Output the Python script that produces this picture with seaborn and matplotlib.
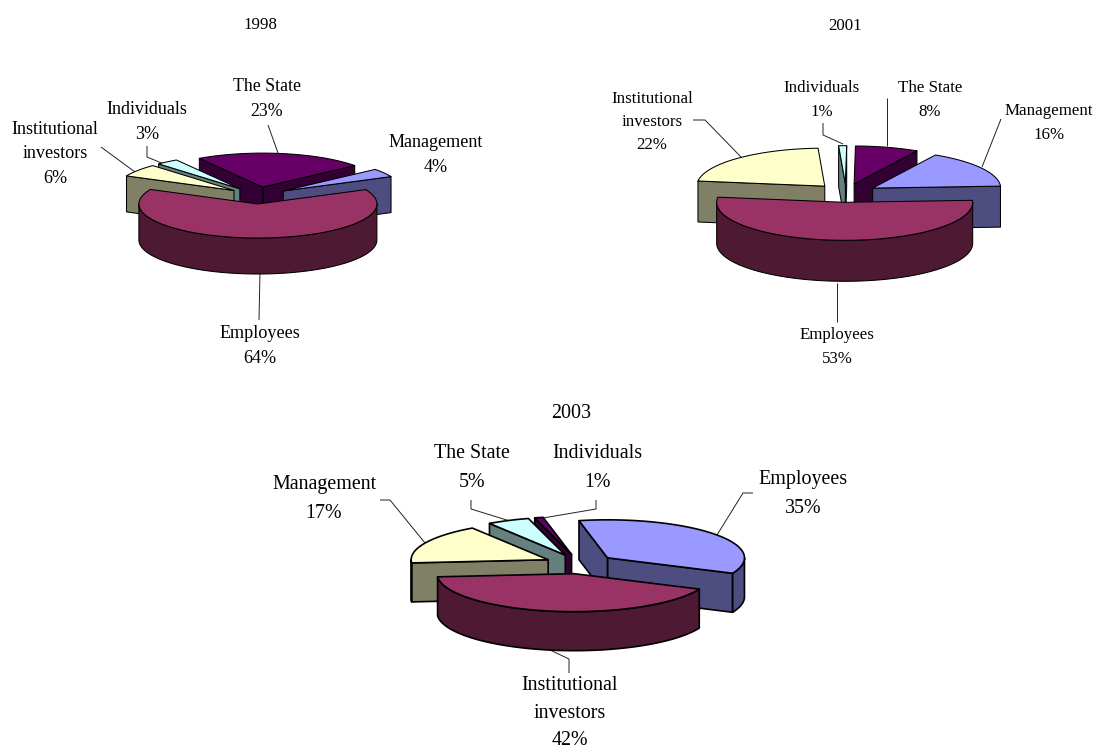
import numpy as np
import matplotlib
matplotlib.use("Agg")
import matplotlib.pyplot as plt
import seaborn as sns

# ---- data (clockwise slice order, as in the source charts) ----
cats_1998 = ["Management", "Employees", "Institutional investors", "Individuals", "The State"]
vals_1998 = [4, 64, 6, 3, 23]
cats_2001 = ["Management", "Employees", "Institutional investors", "Individuals", "The State"]
vals_2001 = [16, 53, 22, 1, 8]
cats_2003 = ["Employees", "Institutional investors", "Management", "The State", "Individuals"]
vals_2003 = [35, 42, 17, 5, 1]

sns.set_theme(style="white")
plt.rcParams["font.family"] = ["Liberation Serif", "DejaVu Serif"]
plt.rcParams["text.color"] = "black"

tops = sns.color_palette(["#9999FF", "#993366", "#FFFFCC", "#CCFFFF", "#660066"])
walls = sns.color_palette(["#4D4D80", "#4D1933", "#808066", "#668080", "#330033"])

fig = plt.figure(figsize=(10.96, 7.51), dpi=100)
ax = fig.add_axes([0, 0, 1, 1])
ax.set_xlim(0, 1096)
ax.set_ylim(751, 0)
ax.axis("off")


def pie3d(values, start, cx, cy, rx, ry, depth, explode, lw):
    fracs = np.asarray(values, float) / np.sum(values) * 360.0
    hi = start - np.concatenate([[0], np.cumsum(fracs)[:-1]])
    lo = hi - fracs
    order = []
    for i in range(len(values)):
        mid = np.radians((hi[i] + lo[i]) / 2)
        ax0 = cx + explode * rx * np.cos(mid)
        ay0 = cy - explode * ry * np.sin(mid)
        order.append((ay0, i, ax0))
    for ay0, i, ax0 in sorted(order):
        t = np.radians(np.linspace(lo[i], hi[i], max(int(fracs[i] * 2), 8)))
        xs = ax0 + rx * np.cos(t)
        ys = ay0 - ry * np.sin(t)
        kw = dict(edgecolor="black", linewidth=lw, joinstyle="round", zorder=2)
        # radial faces turned toward the viewer
        if np.cos(t[0]) > 0:
            ax.fill([ax0, xs[0], xs[0], ax0], [ay0, ys[0], ys[0] + depth, ay0 + depth],
                    facecolor=walls[i], **kw)
        if np.cos(t[-1]) < 0:
            ax.fill([ax0, xs[-1], xs[-1], ax0], [ay0, ys[-1], ys[-1] + depth, ay0 + depth],
                    facecolor=walls[i], **kw)
        # outer rim
        front = np.sin(t) <= 0
        if front.sum() > 1:
            fx, fy = xs[front], ys[front]
            ax.fill(np.r_[fx, fx[::-1]], np.r_[fy, fy[::-1] + depth],
                    facecolor=walls[i], **kw)
        # top face
        ax.fill(np.r_[ax0, xs], np.r_[ay0, ys], facecolor=tops[i], **kw)


pie3d(vals_1998, 39.4, 258, 195.5, 119, 34, 36, 0.25, 0.75)
pie3d(vals_2001, 60.6, 846, 193, 128, 38, 41, 0.245, 0.75)
pie3d(vals_2003, 102, 580, 564, 137, 38, 39, 0.258, 1.2)


def pct(cat_list, val_list, cat):
    return f"{val_list[cat_list.index(cat)]}%"


def label(x, y, lines, size, pctval, spacing):
    ax.text(x, y, "\n".join(lines + [pctval]), ha="center", va="center", fontsize=size,
            color="black", linespacing=spacing, zorder=3)


def leader(xs, ys, lw=0.7):
    ax.plot(xs, ys, color="#222222", lw=lw, zorder=1.5, solid_capstyle="butt")


F1, F2, F3 = 13.1, 12.2, 14.4
S1, S2, S3 = 1.58, 1.6, 1.66

# 1998
ax.text(260, 25, "1998", ha="center", va="center", fontsize=F2)
label(267, 99, ["The State"], F1 - 0.3, pct(cats_1998, vals_1998, "The State"), S1)
label(147, 122, ["Individuals"], F1, pct(cats_1998, vals_1998, "Individuals"), S1)
label(55, 154, ["Institutional", "investors"], F1, pct(cats_1998, vals_1998, "Institutional investors"), S1)
label(436, 155, ["Management"], F1, pct(cats_1998, vals_1998, "Management"), S1)
label(260, 346, ["Employees"], F1, pct(cats_1998, vals_1998, "Employees"), S1)
leader([268, 278], [125, 153])
leader([147, 147, 164], [146, 157, 164])
leader([101, 135], [147, 172])
leader([260, 259], [273, 320])

# 2001
ax.text(845, 26, "2001", ha="center", va="center", fontsize=F2)
label(822, 100, ["Individuals"], F2, pct(cats_2001, vals_2001, "Individuals"), S2)
label(930, 100, ["The State"], F2, pct(cats_2001, vals_2001, "The State"), S2)
label(1049, 123, ["Management"], F2, pct(cats_2001, vals_2001, "Management"), S2)
label(652, 122, ["Institutional", "investors"], F2, pct(cats_2001, vals_2001, "Institutional investors"), S2)
label(837, 347, ["Employees"], F2, pct(cats_2001, vals_2001, "Employees"), S2)
leader([693, 705, 741], [120, 120, 157])
leader([823, 823, 843], [123, 135, 144])
leader([887, 887], [98, 146])
leader([1001, 982], [119, 167])
leader([837, 837], [283, 322])

# 2003
ax.text(571, 413, "2003", ha="center", va="center", fontsize=F3)
label(472, 468, ["The State"], F3, pct(cats_2003, vals_2003, "The State"), S3)
label(597, 468, ["Individuals"], F3, pct(cats_2003, vals_2003, "Individuals"), S3)
label(803, 494, ["Employees"], F3, pct(cats_2003, vals_2003, "Employees"), S3)
label(324, 499, ["Management"], F3, pct(cats_2003, vals_2003, "Management"), S3)
label(570, 713, ["Institutional", "investors"], F3, pct(cats_2003, vals_2003, "Institutional investors"), 1.58)
leader([471, 471, 510], [500, 509, 521])
leader([596, 596, 543], [500, 509, 518])
leader([753, 743, 717], [493, 493, 535])
leader([380, 390, 425], [500, 500, 543])
leader([550, 569, 569], [650, 659, 673])

sns.despine(ax=ax, left=True, bottom=True)
fig.savefig("out.png", dpi=100, facecolor="white")
